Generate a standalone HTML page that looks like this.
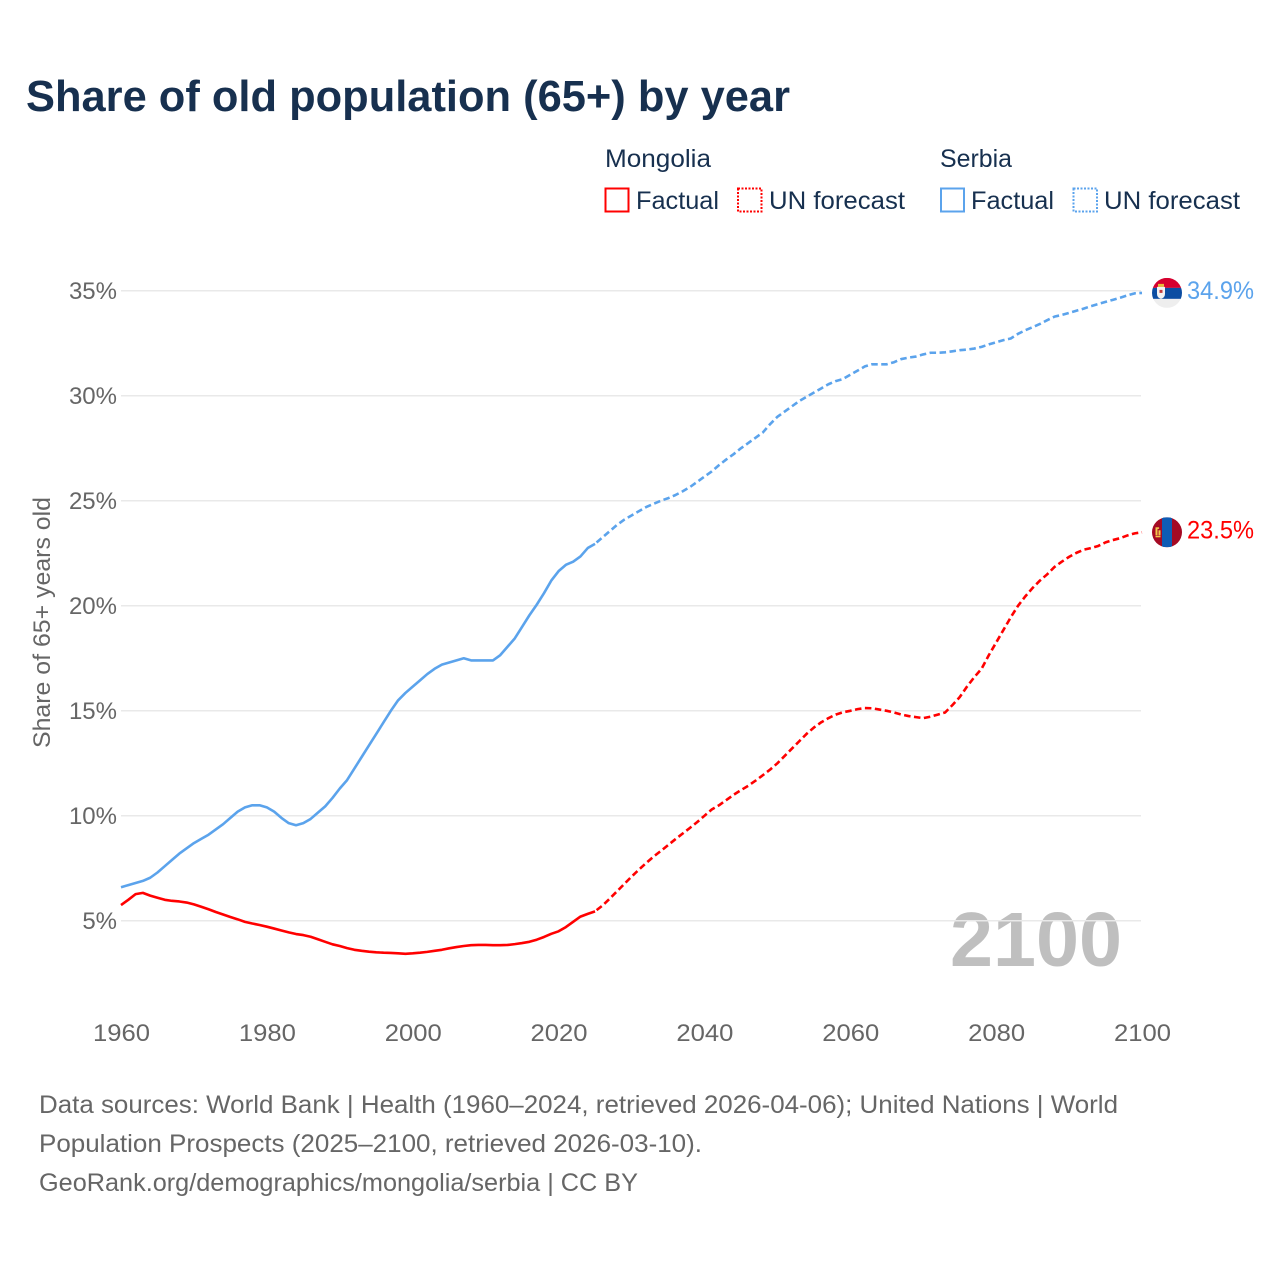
<!DOCTYPE html>
<html lang="en">
<head>
<meta charset="utf-8">
<title>Share of old population (65+) by year</title>
<style>
html,body{margin:0;padding:0;background:#fff;}
svg{display:block;font-family:"Liberation Sans",sans-serif;}
</style>
</head>
<body>
<svg id="chart" xmlns="http://www.w3.org/2000/svg" width="1280" height="1280" viewBox="0 0 1280 1280">
  <rect width="1280" height="1280" fill="#fff"/>
  <text x="26" y="111" font-size="44" font-weight="700" fill="#17304f" textLength="764" lengthAdjust="spacingAndGlyphs">Share of old population (65+) by year</text>

  <g font-size="25" fill="#17304f">
    <text x="605" y="167" textLength="106" lengthAdjust="spacingAndGlyphs">Mongolia</text>
    <text x="940" y="167" textLength="72" lengthAdjust="spacingAndGlyphs">Serbia</text>
    <rect x="605.5" y="188.5" width="23" height="23" fill="none" stroke="#ff0000" stroke-width="2"/>
    <text x="636" y="209" textLength="83" lengthAdjust="spacingAndGlyphs">Factual</text>
    <rect x="738" y="188.5" width="23.5" height="23" fill="none" stroke="#ff0000" stroke-width="2" stroke-dasharray="2 1.5"/>
    <text x="769" y="209" textLength="136" lengthAdjust="spacingAndGlyphs">UN forecast</text>
    <rect x="941" y="188.5" width="23" height="23" fill="none" stroke="#5ba3ec" stroke-width="2"/>
    <text x="971" y="209" textLength="83" lengthAdjust="spacingAndGlyphs">Factual</text>
    <rect x="1073.5" y="188.5" width="23.5" height="23" fill="none" stroke="#5ba3ec" stroke-width="2" stroke-dasharray="2 1.5"/>
    <text x="1104" y="209" textLength="136" lengthAdjust="spacingAndGlyphs">UN forecast</text>
  </g>

  <text x="950" y="966" font-size="77" font-weight="700" fill="#8a8a8a" fill-opacity="0.55" textLength="172" lengthAdjust="spacingAndGlyphs">2100</text>
  <g id="grid"></g>
  <g id="yticks" font-size="24" fill="#666" text-anchor="end"></g>
  <g id="xticks" font-size="24" fill="#666" text-anchor="middle"></g>
  <text transform="translate(50,748) rotate(-90)" font-size="24" fill="#666" textLength="251" lengthAdjust="spacingAndGlyphs">Share of 65+ years old</text>
  <g id="series" fill="none" stroke-width="2.6" stroke-linejoin="round"></g>

  <g id="flag-serbia">
    <clipPath id="clip-rs"><circle cx="0" cy="0" r="15"/></clipPath>
    <g clip-path="url(#clip-rs)">
      <rect x="-15" y="-15" width="30" height="10" fill="#d6002f"/>
      <rect x="-15" y="-5" width="30" height="11" fill="#0c4da2"/>
      <rect x="-15" y="6" width="30" height="9" fill="#eeeeee"/>
      <rect x="-9" y="-9" width="6" height="3" fill="#e8b93a"/>
      <path d="M-10 -6 h8 v7 q0 4 -4 5 q-4 -1 -4 -5 z" fill="#f2f2f2"/>
      <rect x="-7.5" y="-3" width="3" height="3" fill="#c43a3a"/>
    </g>
  </g>
  <g id="flag-mongolia">
    <clipPath id="clip-mn"><circle cx="0" cy="0" r="15"/></clipPath>
    <g clip-path="url(#clip-mn)">
      <rect x="-15" y="-15" width="30" height="30" fill="#a50a24"/>
      <rect x="-5" y="-15" width="10" height="30" fill="#0e5cb5"/>
      <rect x="-11.5" y="-5" width="2" height="8" fill="#f2c94c"/>
      <rect x="-8.5" y="-2" width="2" height="5" fill="#f2c94c"/>
      <rect x="-11.5" y="3.5" width="5" height="1.5" fill="#f2c94c"/>
      <rect x="-9.5" y="-5" width="1.6" height="1.6" fill="#f2c94c"/>
    </g>
  </g>
  <text id="label-serbia" x="1187" font-size="25" fill="#5ba3ec" textLength="67" lengthAdjust="spacingAndGlyphs">34.9%</text>
  <text id="label-mongolia" x="1187" font-size="25" fill="#ff0000" textLength="67" lengthAdjust="spacingAndGlyphs">23.5%</text>

  <g font-size="25" fill="#666">
    <text x="39" y="1113" textLength="1079" lengthAdjust="spacingAndGlyphs">Data sources: World Bank | Health (1960–2024, retrieved 2026-04-06); United Nations | World</text>
    <text x="39" y="1152" textLength="663" lengthAdjust="spacingAndGlyphs">Population Prospects (2025–2100, retrieved 2026-03-10).</text>
    <text x="39" y="1191" textLength="599" lengthAdjust="spacingAndGlyphs">GeoRank.org/demographics/mongolia/serbia | CC BY</text>
  </g>
</svg>
<script>
const yTickValues = [5, 10, 15, 20, 25, 30, 35];
const xTickValues = [1960, 1980, 2000, 2020, 2040, 2060, 2080, 2100];
const years = [
1960,1961,1962,1963,1964,1965,1966,1967,1968,1969,
1970,1971,1972,1973,1974,1975,1976,1977,1978,1979,
1980,1981,1982,1983,1984,1985,1986,1987,1988,1989,
1990,1991,1992,1993,1994,1995,1996,1997,1998,1999,
2000,2001,2002,2003,2004,2005,2006,2007,2008,2009,
2010,2011,2012,2013,2014,2015,2016,2017,2018,2019,
2020,2021,2022,2023,2024,2025,2026,2027,2028,2029,
2030,2031,2032,2033,2034,2035,2036,2037,2038,2039,
2040,2041,2042,2043,2044,2045,2046,2047,2048,2049,
2050,2051,2052,2053,2054,2055,2056,2057,2058,2059,
2060,2061,2062,2063,2064,2065,2066,2067,2068,2069,
2070,2071,2072,2073,2074,2075,2076,2077,2078,2079,
2080,2081,2082,2083,2084,2085,2086,2087,2088,2089,
2090,2091,2092,2093,2094,2095,2096,2097,2098,2099,
2100];
const mongolia = [
5.75,6.0,6.27,6.33,6.2,6.1,6.0,5.95,5.92,5.87,
5.78,5.67,5.55,5.42,5.3,5.18,5.07,4.95,4.87,4.8,
4.72,4.63,4.54,4.45,4.37,4.32,4.24,4.12,4.0,3.88,
3.8,3.7,3.62,3.57,3.53,3.5,3.48,3.47,3.45,3.43,
3.45,3.48,3.52,3.57,3.62,3.69,3.75,3.8,3.84,3.85,
3.85,3.84,3.84,3.85,3.89,3.94,4.0,4.1,4.23,4.38,
4.5,4.7,4.95,5.2,5.33,5.45,5.72,6.05,6.4,6.75,
7.1,7.43,7.75,8.05,8.32,8.6,8.88,9.15,9.42,9.7,
10.0,10.3,10.5,10.75,11.0,11.22,11.43,11.67,11.93,12.2,
12.5,12.85,13.2,13.55,13.9,14.2,14.45,14.65,14.82,14.93,
15.0,15.08,15.13,15.12,15.06,15.0,14.92,14.82,14.75,14.7,
14.65,14.72,14.82,14.92,15.27,15.65,16.15,16.6,17.0,17.65,
18.25,18.85,19.45,20.0,20.45,20.85,21.2,21.5,21.85,22.1,
22.33,22.52,22.67,22.75,22.85,23.02,23.13,23.22,23.35,23.45,
23.5];
const serbia = [
6.6,6.7,6.8,6.9,7.05,7.3,7.6,7.9,8.2,8.45,
8.7,8.9,9.1,9.35,9.6,9.9,10.2,10.4,10.5,10.5,
10.4,10.2,9.9,9.65,9.55,9.65,9.85,10.15,10.45,10.85,
11.3,11.7,12.25,12.8,13.35,13.9,14.45,15.0,15.5,15.85,
16.15,16.45,16.75,17.0,17.2,17.3,17.4,17.5,17.4,17.4,
17.4,17.4,17.65,18.05,18.45,19.0,19.55,20.05,20.6,21.2,
21.65,21.95,22.1,22.35,22.75,22.95,23.25,23.55,23.85,24.1,
24.3,24.5,24.7,24.85,25.0,25.12,25.27,25.45,25.65,25.9,
26.15,26.4,26.7,26.97,27.22,27.5,27.75,28.0,28.25,28.65,
29.0,29.25,29.5,29.75,29.95,30.15,30.35,30.55,30.7,30.8,
31.0,31.2,31.4,31.5,31.5,31.5,31.6,31.75,31.82,31.87,
31.97,32.05,32.05,32.07,32.12,32.17,32.2,32.25,32.33,32.45,
32.55,32.65,32.73,32.95,33.12,33.27,33.42,33.6,33.77,33.85,
33.95,34.05,34.15,34.27,34.37,34.47,34.57,34.67,34.78,34.88,
34.9];
const lastFactualYear = 2025;

const NS = 'http://www.w3.org/2000/svg';
function xScale(year) { return 121 + (year - 1960) * (1142 - 121) / 140; }
function yScale(value) { return 920.8 - (value - 5) * 21; }

const gridGroup = document.getElementById('grid');
const yTickGroup = document.getElementById('yticks');
const xTickGroup = document.getElementById('xticks');
const seriesGroup = document.getElementById('series');

yTickValues.forEach(function (v) {
  const line = document.createElementNS(NS, 'line');
  
  
  line.setAttribute('x1', 121);
  line.setAttribute('x2', 1141);
  line.setAttribute('y1', yScale(v));
  line.setAttribute('y2', yScale(v));
  line.setAttribute('stroke', '#e9e9e9');
  line.setAttribute('stroke-width', '1.5');
  gridGroup.appendChild(line);
  const label = document.createElementNS(NS, 'text');
  
  
  label.setAttribute('x', 117);
  label.setAttribute('y', yScale(v) + 8);
  label.textContent = v + '%';
  yTickGroup.appendChild(label);
});

xTickValues.forEach(function (year) {
  const label = document.createElementNS(NS, 'text');
  
  
  label.setAttribute('x', xScale(year) + 0.5);
  label.setAttribute('y', 1041);
  label.setAttribute('textLength', '57');
  label.setAttribute('lengthAdjust', 'spacingAndGlyphs');
  label.textContent = year;
  xTickGroup.appendChild(label);
});

function pathFor(values, from, to) {
  const pts = [];
  years.forEach(function (year, i) {
    if (year >= from && year <= to) pts.push(xScale(year).toFixed(2) + ',' + yScale(values[i]).toFixed(2));
  });
  return 'M' + pts.join('L');
}

function drawSeries(values, color, key) {
  const solid = document.createElementNS(NS, 'path');
  
  
  solid.setAttribute('d', pathFor(values, 1960, lastFactualYear));
  solid.setAttribute('stroke', color);
  seriesGroup.appendChild(solid);
  const dashed = document.createElementNS(NS, 'path');
  
  
  dashed.setAttribute('d', pathFor(values, lastFactualYear, 2100));
  dashed.setAttribute('stroke', color);
  dashed.setAttribute('stroke-dasharray', '6.5 3.5');
  dashed.setAttribute('stroke-dashoffset', '-2');
  seriesGroup.appendChild(dashed);
}
drawSeries(mongolia, '#ff0000', 'mongolia');
drawSeries(serbia, '#5ba3ec', 'serbia');

function placeEnd(values, flagId, labelId) {
  const last = values[values.length - 1];
  const y = yScale(last);
  document.getElementById(flagId).setAttribute('transform', 'translate(1167,' + y + ')');
  const label = document.getElementById(labelId);
  label.setAttribute('y', y + 6);
  label.textContent = last.toFixed(1) + '%';
}
placeEnd(serbia, 'flag-serbia', 'label-serbia');
placeEnd(mongolia, 'flag-mongolia', 'label-mongolia');
</script>
</body>
</html>
